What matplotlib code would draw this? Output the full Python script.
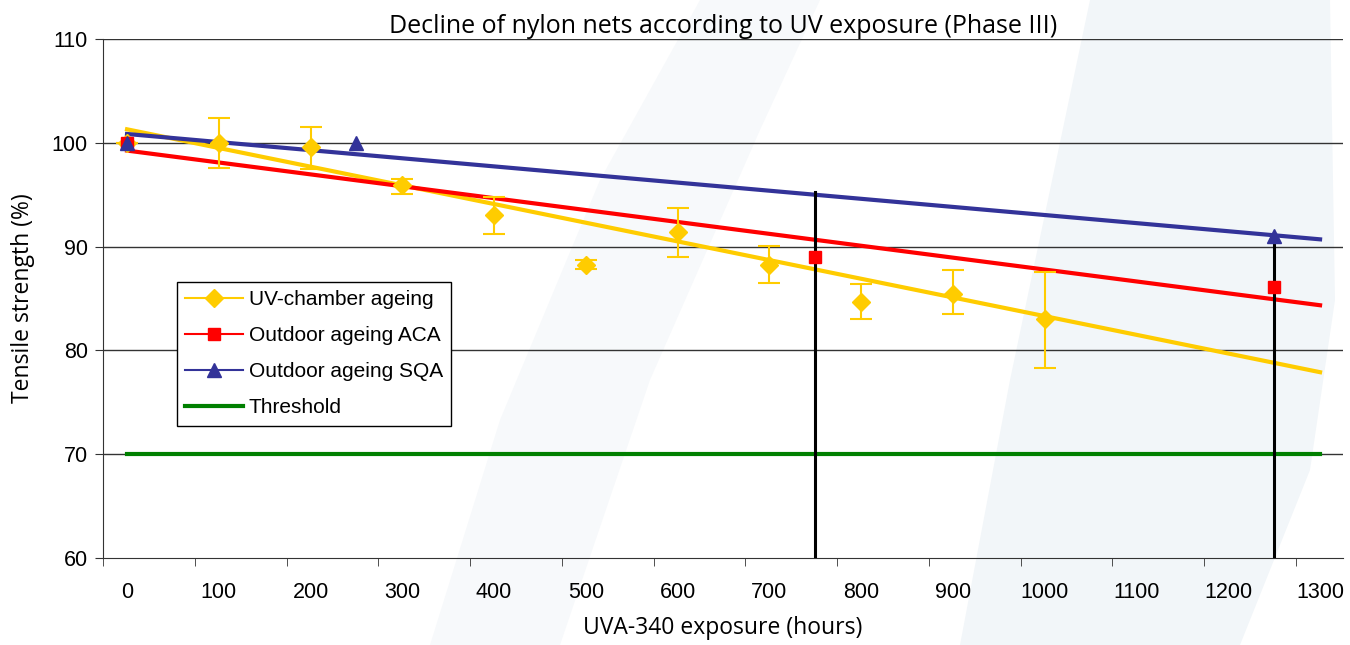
import matplotlib.pyplot as plt
from matplotlib.patches import Polygon
import numpy as np

# UV-chamber ageing (mean tensile strength with error bar limits)
uv_hours = [0, 100, 200, 300, 400, 500, 600, 700, 800, 900, 1000]
uv_strength = [100.0, 100.0, 99.6, 95.9, 93.05, 88.2, 91.4, 88.2, 84.7, 85.4, 83.0]
uv_err_top = [100.0, 102.4, 101.5, 96.5, 94.8, 88.7, 93.75, 90.05, 86.4, 87.7, 87.6]
uv_err_bot = [100.0, 97.6, 97.5, 95.1, 91.2, 87.8, 89.0, 86.5, 83.0, 83.5, 78.3]

# outdoor ageing
aca_hours = [0, 750, 1250]
aca_strength = [100.0, 89.0, 86.1]
sqa_hours = [0, 250, 1250]
sqa_strength = [100.0, 100.0, 91.0]

# trend lines (value at start / end hour)
trend_hours = [0, 1300]
uv_trend = [101.3, 77.9]
aca_trend = [99.25, 84.35]
sqa_trend = [100.85, 90.7]

threshold = 70
marker_hours = [750, 1250]
marker_tops = [95.3, 91.0]

x_labels = list(range(0, 1400, 100))

YELLOW = '#FFCC00'
RED = '#FF0000'
BLUE = '#333399'
GREEN = '#008000'

fig = plt.figure(figsize=(13.5, 6.45), dpi=100)

# faint watermark shapes behind the chart (figure pixel coords / size)
W, H = 1350.0, 645.0
wm1 = [(1090, 0), (1330, 0), (1335, 300), (1310, 470), (1240, 645), (960, 645), (1010, 380)]
wm2 = [(430, 645), (560, 645), (650, 380), (760, 130), (820, 0), (700, 0), (600, 180), (500, 420)]
for pts, col in [(wm1, '#F2F6F9'), (wm2, '#F7F9FB')]:
    fig.patches.append(Polygon([(x / W, 1 - y / H) for x, y in pts], closed=True,
                               transform=fig.transFigure, facecolor=col, edgecolor='none', zorder=-5))

ax = fig.add_axes([103/1350, 1-558/645, 1240/1350, 519/645])
ax.set_facecolor('none')

for y in [70, 80, 90, 100, 110]:
    ax.axhline(y, color='#333333', lw=1, zorder=1)

# trend lines
ax.plot(trend_hours, uv_trend, color=YELLOW, lw=3, zorder=3)
ax.plot(trend_hours, aca_trend, color=RED, lw=3, zorder=3)
ax.plot(trend_hours, sqa_trend, color=BLUE, lw=3, zorder=3)
ax.plot(trend_hours, [threshold, threshold], color=GREEN, lw=3, zorder=3)

# vertical markers
for h, t in zip(marker_hours, marker_tops):
    ax.plot([h, h], [60, t], color='black', lw=2.2, zorder=4)

# data points
yerr = [np.array(uv_strength) - np.array(uv_err_bot), np.array(uv_err_top) - np.array(uv_strength)]
ax.errorbar(uv_hours, uv_strength, yerr=yerr, fmt='D', color=YELLOW, ms=9,
            ecolor=YELLOW, elinewidth=1.5, capsize=8, capthick=1.5, zorder=5)
ax.plot(aca_hours, aca_strength, 's', color=RED, ms=8.5, zorder=6)
ax.plot(sqa_hours, sqa_strength, '^', color=BLUE, ms=10, zorder=7)

ax.set_xlim(-26.2, 1325)
ax.set_ylim(60, 110)
ax.set_yticks([60, 70, 80, 90, 100, 110])
ax.set_xticks(x_labels)
ax.set_xticks([v - 26.2 for v in x_labels], minor=True)
ax.tick_params(axis='x', which='major', length=0, pad=17, labelsize=15.5)
ax.tick_params(axis='x', which='minor', length=6, direction='out', color='#333333')
ax.tick_params(axis='y', length=6, direction='out', pad=5, labelsize=15.5, color='#333333')
for lab in ax.get_xticklabels() + ax.get_yticklabels():
    lab.set_family('Liberation Sans')

for s in ['top', 'right']:
    ax.spines[s].set_visible(False)
ax.spines['left'].set_color('#333333')
ax.spines['bottom'].set_color('#333333')

ax.set_title('Decline of nylon nets according to UV exposure (Phase III)',
             family='Open Sans', fontsize=18, pad=4)
ax.set_xlabel('UVA-340 exposure (hours)', family='Open Sans', fontsize=16.5, labelpad=10)
ax.set_ylabel('Tensile strength (%)', family='Open Sans', fontsize=16.5, labelpad=12)

handles = [
    plt.Line2D([], [], color=YELLOW, lw=1.5, marker='D', ms=9),
    plt.Line2D([], [], color=RED, lw=1.5, marker='s', ms=8),
    plt.Line2D([], [], color=BLUE, lw=1.5, marker='^', ms=10),
    plt.Line2D([], [], color=GREEN, lw=3),
]
names = ['UV-chamber ageing', 'Outdoor ageing ACA', 'Outdoor ageing SQA', 'Threshold']
leg = ax.legend(handles, names, loc='upper left', bbox_to_anchor=(0.0597, 0.532),
                borderaxespad=0, fancybox=False, framealpha=1, edgecolor='black',
                prop={'family': 'Liberation Sans', 'size': 15}, handlelength=2.75,
                labelspacing=0.82, borderpad=0.4, handletextpad=0.3)
leg.get_frame().set_linewidth(1)
leg.set_zorder(10)

fig.savefig('out.png', dpi=100)
